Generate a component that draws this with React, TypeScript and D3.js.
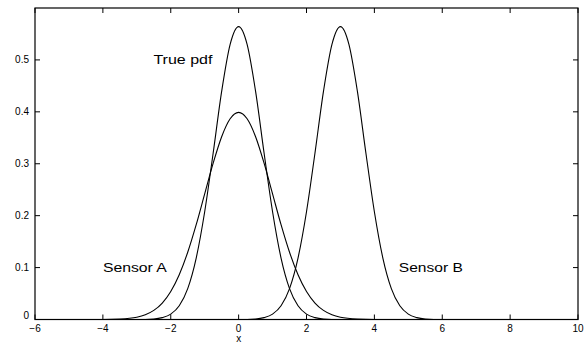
import { useEffect, useRef } from "react";
import * as d3 from "d3";

// points: [x, density]
const truePdf: [number, number][] = [
  [-6, 0], [-4, 0.0001], [-3.5, 0.0009], [-3, 0.0044], [-2.75, 0.0091], [-2.5, 0.0175],
  [-2.25, 0.0317], [-2, 0.054], [-1.75, 0.0863], [-1.5, 0.1295], [-1.25, 0.1826],
  [-1, 0.242], [-0.75, 0.3011], [-0.5, 0.3521], [-0.25, 0.3867], [0, 0.3989],
  [0.25, 0.3867], [0.5, 0.3521], [0.75, 0.3011], [1, 0.242], [1.25, 0.1826],
  [1.5, 0.1295], [1.75, 0.0863], [2, 0.054], [2.25, 0.0317], [2.5, 0.0175],
  [2.75, 0.0091], [3, 0.0044], [3.5, 0.0009], [4, 0.0001], [10, 0],
];

const sensorA: [number, number][] = [
  [-6, 0], [-3, 0.0001], [-2.5, 0.0011], [-2.25, 0.0036], [-2, 0.0103], [-1.75, 0.0264],
  [-1.5, 0.0595], [-1.25, 0.1184], [-1, 0.2076], [-0.75, 0.3207], [-0.5, 0.4394],
  [-0.25, 0.53], [0, 0.5642], [0.25, 0.53], [0.5, 0.4394], [0.75, 0.3207],
  [1, 0.2076], [1.25, 0.1184], [1.5, 0.0595], [1.75, 0.0264], [2, 0.0103],
  [2.25, 0.0036], [2.5, 0.0011], [3, 0.0001], [10, 0],
];

const sensorB: [number, number][] = [
  [-6, 0], [0, 0.0001], [0.5, 0.0011], [0.75, 0.0036], [1, 0.0103], [1.25, 0.0264],
  [1.5, 0.0595], [1.75, 0.1184], [2, 0.2076], [2.25, 0.3207], [2.5, 0.4394],
  [2.75, 0.53], [3, 0.5642], [3.25, 0.53], [3.5, 0.4394], [3.75, 0.3207],
  [4, 0.2076], [4.25, 0.1184], [4.5, 0.0595], [4.75, 0.0264], [5, 0.0103],
  [5.25, 0.0036], [5.5, 0.0011], [6, 0.0001], [10, 0],
];

const xTicks = [-6, -4, -2, 0, 2, 4, 6, 8, 10];
const yTicks = [0, 0.1, 0.2, 0.3, 0.4, 0.5];

const labels = [
  { text: "True pdf", x: -2.51, y: 0.5, len: 59 },
  { text: "Sensor A", x: -4.0, y: 0.1, len: 64 },
  { text: "Sensor B", x: 4.72, y: 0.1, len: 64 },
];

const W = 585;
const H = 343;

export default function App() {
  const ref = useRef<SVGSVGElement | null>(null);

  useEffect(() => {
    document.body.style.margin = "0";
    const svg = d3.select(ref.current);
    svg.selectAll("*").remove();

    const margin = { top: 8, right: 7, bottom: 23.5, left: 35 };
    const iw = W - margin.left - margin.right;
    const ih = H - margin.top - margin.bottom;

    const x = d3.scaleLinear().domain([-6, 10]).range([0, iw]);
    const y = d3.scaleLinear().domain([0, 0.6]).range([ih, 0]);

    const g = svg.append("g").attr("transform", `translate(${margin.left},${margin.top})`);
    const font = "'Liberation Sans', Arial, Helvetica, sans-serif";
    const tickLen = 5;
    const fmtX = (d: number) => (d < 0 ? `\u2212${Math.abs(d)}` : `${d}`);

    // box
    g.append("rect")
      .attr("width", iw).attr("height", ih)
      .attr("fill", "none").attr("stroke", "#000").attr("stroke-width", 1.2);

    // x ticks (bottom + top, inward)
    xTicks.forEach((t) => {
      const px = x(t);
      g.append("line").attr("x1", px).attr("x2", px).attr("y1", ih).attr("y2", ih - tickLen)
        .attr("stroke", "#000");
      g.append("line").attr("x1", px).attr("x2", px).attr("y1", 0).attr("y2", tickLen)
        .attr("stroke", "#000");
      g.append("text").attr("x", px).attr("y", ih + 12)
        .attr("text-anchor", "middle").attr("font-family", font).attr("font-size", 10)
        .text(fmtX(t));
    });

    // y ticks (left + right, inward)
    yTicks.forEach((t) => {
      const py = y(t);
      g.append("line").attr("x1", 0).attr("x2", tickLen).attr("y1", py).attr("y2", py)
        .attr("stroke", "#000");
      g.append("line").attr("x1", iw).attr("x2", iw - tickLen).attr("y1", py).attr("y2", py)
        .attr("stroke", "#000");
      g.append("text").attr("x", -6).attr("y", t === 0 ? py - 1 : py + 3.5)
        .attr("text-anchor", "end").attr("font-family", font).attr("font-size", 10)
        .text(`${t}`);
    });

    g.append("text").attr("x", x(0)).attr("y", ih + 22)
      .attr("text-anchor", "middle").attr("font-family", font).attr("font-size", 10)
      .text("x");

    const line = d3.line<[number, number]>()
      .x((d) => x(d[0]))
      .y((d) => y(d[1]))
      .curve(d3.curveMonotoneX);

    [truePdf, sensorA, sensorB].forEach((s) => {
      g.append("path").datum(s).attr("d", line)
        .attr("fill", "none").attr("stroke", "#000").attr("stroke-width", 1.1);
    });

    labels.forEach((l) => {
      g.append("text").attr("x", x(l.x)).attr("y", y(l.y) + 4)
        .attr("font-family", font).attr("font-size", 12)
        .attr("textLength", l.len).attr("lengthAdjust", "spacingAndGlyphs")
        .text(l.text);
    });
  }, []);

  return <svg ref={ref} width={W} height={H} style={{ display: "block", background: "#fff" }} />;
}
